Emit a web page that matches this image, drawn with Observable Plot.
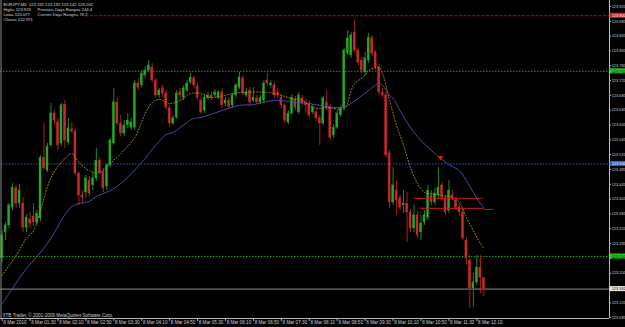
<!DOCTYPE html>
<html><head><meta charset="utf-8">
<script src="https://cdn.jsdelivr.net/npm/d3@7"></script>
<script src="https://cdn.jsdelivr.net/npm/@observablehq/plot@0.6"></script>
<style>html,body{margin:0;padding:0;background:#000;overflow:hidden;} svg{display:block;}</style>
</head><body><div id="chart"></div>
<script>
// EURJPY M5 candles, bar index 0..138
const opens = [123.245,123.315,123.334,123.382,123.434,123.393,123.393,123.328,123.350,123.358,123.342,123.353,123.517,123.482,123.550,123.636,123.612,123.555,123.660,123.558,123.593,123.587,123.474,123.415,123.423,123.455,123.442,123.461,123.509,123.477,123.439,123.496,123.555,123.666,123.609,123.582,123.604,123.598,123.598,123.717,123.712,123.739,123.752,123.760,123.725,123.685,123.704,123.690,123.650,123.609,123.625,123.693,123.679,123.698,123.720,123.731,123.709,123.671,123.644,123.677,123.685,123.685,123.679,123.693,123.663,123.671,123.658,123.685,123.706,123.731,123.685,123.698,123.671,123.677,123.666,123.671,123.725,123.712,123.712,123.693,123.679,123.658,123.612,123.636,123.674,123.639,123.677,123.666,123.663,123.639,123.639,123.623,123.609,123.666,123.652,123.577,123.598,123.631,123.650,123.798,123.793,123.855,123.806,123.779,123.747,123.779,123.839,123.801,123.760,123.693,123.685,123.528,123.396,123.428,123.407,123.388,123.393,123.369,123.326,123.361,123.315,123.342,123.355,123.415,123.396,123.415,123.442,123.407,123.374,123.415,123.401,123.382,123.369,123.293,123.239,123.164,123.180,123.220,123.192];
const highs = [123.320,123.342,123.393,123.447,123.442,123.444,123.409,123.363,123.369,123.393,123.374,123.523,123.609,123.555,123.663,123.644,123.623,123.663,123.671,123.623,123.612,123.593,123.479,123.428,123.469,123.466,123.477,123.542,123.517,123.488,123.501,123.569,123.704,123.677,123.631,123.617,123.636,123.623,123.725,123.731,123.752,123.763,123.779,123.771,123.731,123.704,123.712,123.698,123.658,123.631,123.698,123.704,123.712,123.725,123.744,123.736,123.717,123.685,123.687,123.693,123.693,123.701,123.698,123.704,123.679,123.679,123.690,123.717,123.747,123.739,123.704,123.706,123.706,123.685,123.685,123.725,123.744,123.725,123.720,123.704,123.687,123.663,123.644,123.687,123.682,123.693,123.685,123.674,123.671,123.660,123.647,123.631,123.682,123.698,123.660,123.606,123.644,123.658,123.812,123.860,123.855,123.887,123.814,123.787,123.801,123.852,123.847,123.806,123.768,123.704,123.693,123.536,123.490,123.455,123.415,123.428,123.423,123.377,123.388,123.369,123.361,123.374,123.442,123.428,123.434,123.490,123.450,123.415,123.455,123.428,123.409,123.390,123.377,123.301,123.253,123.204,123.253,123.253,123.192];
const lows = [123.231,123.293,123.326,123.374,123.380,123.380,123.315,123.315,123.326,123.331,123.334,123.344,123.482,123.477,123.544,123.604,123.536,123.547,123.542,123.550,123.582,123.469,123.388,123.393,123.407,123.412,123.428,123.453,123.469,123.423,123.428,123.490,123.550,123.604,123.574,123.574,123.596,123.590,123.590,123.698,123.704,123.731,123.747,123.720,123.677,123.677,123.679,123.644,123.598,123.604,123.620,123.671,123.671,123.693,123.714,123.704,123.671,123.633,123.636,123.671,123.671,123.679,123.674,123.650,123.655,123.647,123.650,123.679,123.701,123.685,123.679,123.658,123.666,123.660,123.660,123.663,123.709,123.704,123.677,123.677,123.650,123.609,123.606,123.631,123.644,123.633,123.655,123.636,123.623,123.633,123.614,123.550,123.604,123.644,123.563,123.569,123.593,123.625,123.644,123.793,123.785,123.801,123.766,123.744,123.739,123.771,123.790,123.752,123.685,123.677,123.517,123.380,123.388,123.361,123.374,123.366,123.288,123.315,123.315,123.299,123.293,123.334,123.347,123.388,123.388,123.407,123.401,123.361,123.366,123.401,123.374,123.361,123.293,123.226,123.110,123.112,123.172,123.150,123.142];
const closes = [123.307,123.334,123.388,123.436,123.393,123.428,123.328,123.355,123.339,123.342,123.366,123.517,123.488,123.547,123.636,123.617,123.550,123.658,123.563,123.596,123.587,123.474,123.415,123.409,123.461,123.420,123.461,123.509,123.477,123.434,123.496,123.563,123.666,123.609,123.582,123.604,123.617,123.612,123.717,123.706,123.744,123.752,123.766,123.725,123.685,123.698,123.690,123.652,123.609,123.623,123.690,123.685,123.704,123.717,123.733,123.712,123.679,123.639,123.679,123.685,123.677,123.693,123.693,123.658,123.671,123.655,123.685,123.712,123.733,123.690,123.693,123.666,123.679,123.666,123.677,123.717,123.717,123.717,123.685,123.685,123.658,123.617,123.636,123.679,123.652,123.685,123.663,123.658,123.631,123.652,123.623,123.609,123.677,123.650,123.571,123.598,123.636,123.650,123.806,123.839,123.847,123.806,123.774,123.752,123.785,123.841,123.798,123.760,123.693,123.685,123.523,123.396,123.442,123.401,123.382,123.393,123.369,123.326,123.361,123.307,123.339,123.361,123.428,123.396,123.420,123.436,123.409,123.369,123.428,123.409,123.382,123.369,123.299,123.245,123.164,123.180,123.220,123.193,123.162];

// fast (yellow dotted) and slow (blue) moving averages, read at selected bars
const fastBars = [0,4,7,9,14,17,20,22,25,28,31,34,38,41,43,45,48,51,54,57,60,66,69,76,80,83,86,88,90,93,98,100,101,102,104,105,107,108,109,111,113,115,117,119,121,123,126,129,131,133,135,137,138];
const fastVals = [123.199,123.253,123.299,123.320,123.463,123.504,123.528,123.504,123.482,123.477,123.501,123.528,123.571,123.636,123.666,123.674,123.663,123.671,123.690,123.690,123.679,123.690,123.693,123.693,123.685,123.677,123.671,123.658,123.650,123.652,123.650,123.698,123.717,123.725,123.739,123.752,123.760,123.760,123.744,123.671,123.604,123.550,123.490,123.447,123.423,123.420,123.415,123.409,123.396,123.355,123.320,123.285,123.272];
const slowBars = [0,3,7,10,13,15,18,20,22,25,27,29,31,34,37,40,43,45,47,49,51,53,55,57,62,68,72,76,80,84,88,93,97,99,102,105,107,108,109,111,112,114,116,118,120,123,126,129,131,133,135,137,138];
const slowVals = [123.123,123.164,123.218,123.250,123.285,123.315,123.363,123.385,123.393,123.399,123.412,123.420,123.428,123.447,123.474,123.504,123.539,123.561,123.579,123.585,123.598,123.612,123.623,123.625,123.641,123.658,123.660,123.669,123.671,123.666,123.663,123.655,123.652,123.658,123.677,123.698,123.714,123.717,123.712,123.685,123.677,123.644,123.612,123.585,123.563,123.536,123.512,123.493,123.482,123.455,123.423,123.393,123.382];

const timeLabels = ["8 Mar 2010","8 Mar 01:30","8 Mar 02:10","8 Mar 02:50","8 Mar 03:30","8 Mar 04:10","8 Mar 04:50","8 Mar 05:30","8 Mar 06:10","8 Mar 06:50","8 Mar 07:30","8 Mar 08:10","8 Mar 08:50","8 Mar 09:30","8 Mar 10:10","8 Mar 10:50","8 Mar 11:30","8 Mar 12:10"];
const barsPerLabel = 8;
const priceTicks = [123.925,123.885,123.845,123.805,123.765,123.725,123.685,123.645,123.605,123.565,123.525,123.485,123.445,123.405,123.365,123.325,123.285,123.245,123.205,123.165,123.125,123.085];

const redLevel = [{price: 123.900, from: 24}];
const greenLevels = [123.750, 123.250];
const blueLevels = [123.500];
const bidPrice = 123.162;
const trendLines = [{from: 118, to: 137.7, price: 123.407},{from: 120, to: 138.2, price: 123.380},{from: 138.2, to: 140.8, price: 123.377}];
const arrowMark = [{i: 125.6, price: 123.517}];
const priceBoxes = [
  {price: 123.900, fill: "#d41f1f", text: "#ffffff"},
  {price: 123.750, fill: "#22c322", text: "#003300"},
  {price: 123.500, fill: "#2f5fd0", text: "#ffffff"},
  {price: 123.250, fill: "#22c322", text: "#003300"},
  {price: 123.162, fill: "#e6e6e6", text: "#000000"}
];
const headerLeft = ["EURJPY,M5  123.192 123.192 123.142 123.162", "High= 123.923", "Low= 120.077", "Close= 122.971"];
const headerRight = ["", "Previous Days Range= 244.4", "Current Days Range= 78.7", ""];
const copyright = "XTB Trader, \u00a9 2001-2009 MetaQuotes Software Corp.";

const XMIN = -0.46, XMAX = 174.0, YMIN = 123.0826, YMAX = 123.9412;
const bars = opens.map((o, i) => ({i, o, h: highs[i], l: lows[i], c: closes[i], up: closes[i] >= o}));
const fast = fastBars.map((i, k) => ({i, v: fastVals[k]}));
const slow = slowBars.map((i, k) => ({i, v: slowVals[k]}));
const shownTicks = priceTicks.filter(t => priceBoxes.every(b => Math.abs(b.price - t) > 0.006));
const FONT = "'Liberation Sans', Arial, sans-serif";
const LBL = "#cfcfcf";
const AX = 3.9;

const plot = Plot.plot({
  width: 625, height: 327,
  marginTop: 0, marginBottom: 9, marginLeft: 0, marginRight: 16,
  style: {background: "#000", overflow: "hidden", fontFamily: FONT},
  x: {domain: [XMIN, XMAX], axis: null},
  y: {domain: [YMIN, YMAX], axis: null},
  color: {type: "identity"},
  marks: [
    Plot.ruleY(redLevel, {y: "price", x1: "from", x2: XMAX, stroke: "#a81a1a", strokeDasharray: "3,1.5", strokeWidth: 1}),
    Plot.ruleY(greenLevels, {y: d => d, x1: XMIN, x2: XMAX, stroke: "#1f9a1f", strokeDasharray: "1.5,1.5", strokeWidth: 1}),
    Plot.ruleY(blueLevels, {y: d => d, x1: XMIN, x2: XMAX, stroke: "#2f55c8", strokeDasharray: "1.5,1.5", strokeWidth: 1}),
    Plot.ruleY([bidPrice], {y: d => d, x1: XMIN, x2: XMAX, stroke: "#8f8f8f", strokeWidth: 1}),
    Plot.ruleX(bars, {x: "i", y1: "l", y2: "h", stroke: d => d.up ? "#1b8a1b" : "#a82424", strokeWidth: 1}),
    Plot.rect(bars, {x1: d => d.i - 0.28, x2: d => d.i + 0.28, y1: "o", y2: "c",
      fill: d => d.up ? "#27a827" : "#cc2a2a", stroke: d => d.up ? "#27a827" : "#cc2a2a", strokeWidth: 0.4}),
    Plot.line(slow, {x: "i", y: "v", stroke: "#4a4aa6", strokeWidth: 1, curve: "catmull-rom"}),
    Plot.line(fast, {x: "i", y: "v", stroke: "#a89400", strokeWidth: 1, strokeDasharray: "1,2", curve: "catmull-rom"}),
    Plot.ruleY(trendLines, {y: "price", x1: "from", x2: "to", stroke: "#c81c1c", strokeWidth: 1}),
    Plot.dot(arrowMark, {x: "i", y: "price", symbol: "triangle", rotate: 180, r: 2, fill: "#c82020"}),
    // frame
    Plot.ruleX([XMAX], {stroke: "#b8b8b8", strokeWidth: 1}),
    Plot.ruleX([XMIN + 0.15], {stroke: "#8a8a8a", strokeWidth: 1}),
    Plot.ruleY([YMIN], {x1: XMIN, x2: XMAX, stroke: "#b8b8b8", strokeWidth: 1}),
    // price axis
    Plot.ruleY(priceTicks, {y: d => d, x1: XMAX, x2: XMAX + 0.6, stroke: "#b8b8b8"}),
    Plot.text(shownTicks, {x: XMAX, y: d => d, text: d => d.toFixed(3), dx: 2.2, textAnchor: "start", fontSize: AX, fill: LBL}),
    Plot.rect(priceBoxes, {x1: XMAX + 0.2, x2: XMAX + 6, y1: d => d.price - 0.0068, y2: d => d.price + 0.0068, fill: "fill"}),
    Plot.text(priceBoxes, {x: XMAX, y: "price", text: d => d.price.toFixed(3), dx: 2.2, textAnchor: "start", fontSize: AX, fill: "text"}),
    // time axis
    Plot.ruleX(timeLabels, {x: (d, k) => k * barsPerLabel, y1: YMIN, y2: YMIN - 0.008, stroke: "#b8b8b8"}),
    Plot.text(timeLabels, {x: (d, k) => k * barsPerLabel, y: YMIN, text: d => d, dx: 1.2, dy: 2.3, lineAnchor: "top", textAnchor: "start", fontSize: 4.6, fill: LBL}),
    // header and footer texts
    Plot.text([headerLeft.join("\n")], {frameAnchor: "top-left", text: d => d, dx: 3, dy: 1.8, lineAnchor: "top", lineHeight: 1.21, textAnchor: "start", fontSize: 4.2, fill: "#dcdcdc"}),
    Plot.text([headerRight.join("\n")], {frameAnchor: "top-left", text: d => d, dx: 37, dy: 1.8, lineAnchor: "top", lineHeight: 1.21, textAnchor: "start", fontSize: 4.2, fill: "#dcdcdc"}),
    Plot.text([copyright], {frameAnchor: "bottom-left", text: d => d, dx: 2, dy: -1.5, lineAnchor: "bottom", textAnchor: "start", fontSize: 4.6, fill: LBL})
  ]
});
document.getElementById("chart").appendChild(plot);
</script>
</body></html>
